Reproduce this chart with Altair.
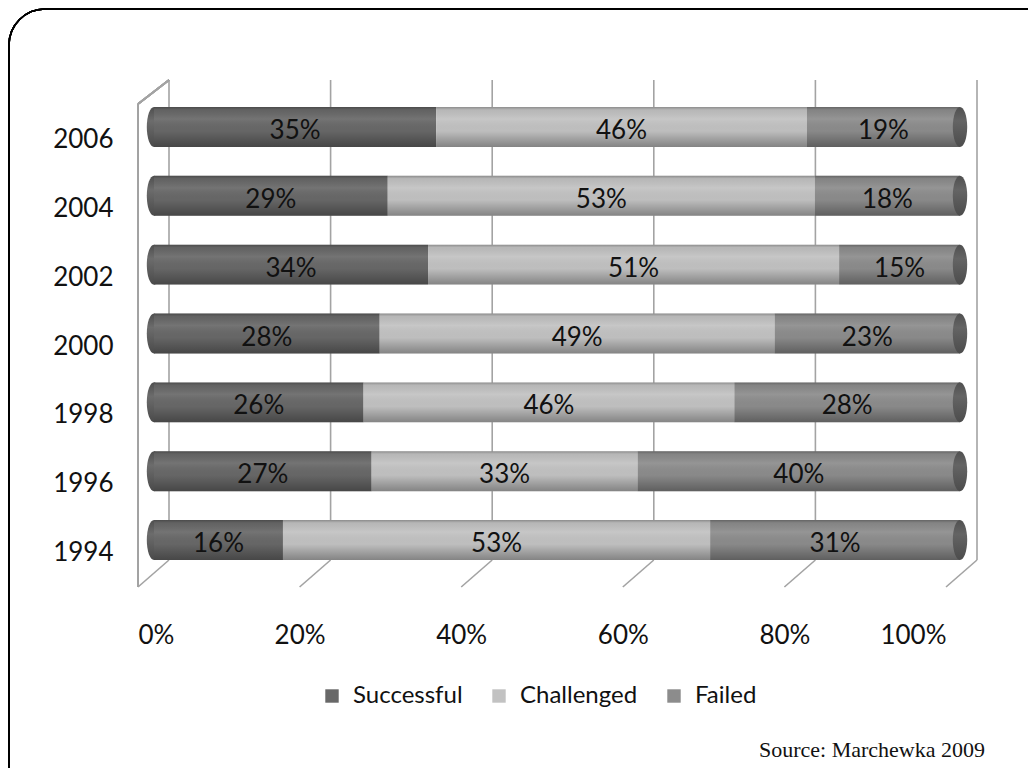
import altair as alt
import pandas as pd

years = ['2006', '2004', '2002', '2000', '1998', '1996', '1994']
successful = [35, 29, 34, 28, 26, 27, 16]
challenged = [46, 53, 51, 49, 46, 33, 53]
failed = [19, 18, 15, 23, 28, 40, 31]
categories = ['Successful', 'Challenged', 'Failed']
colors = ['#686868', '#c2c2c2', '#8c8c8c']
ticks = [0, 20, 40, 60, 80, 100]

rows = []
for i, y in enumerate(years):
    for k, (c, vals) in enumerate(zip(categories, [successful, challenged, failed])):
        rows.append({'year': y, 'cat': c, 'order': k, 'value': vals[i]})
df = pd.DataFrame(rows)
tick_df = pd.DataFrame({'p': ticks})

FONT = 'Lato'
W, H = 808, 507
front_scale = alt.Scale(domain=[0, 100], range=[0, 808])
bar_scale = alt.Scale(domain=[0, 100], range=[16, 822])
back_scale = alt.Scale(domain=[0, 100], range=[31, 839])
y_scale = alt.Scale(domain=years, paddingInner=0.42, paddingOuter=0.392)
grid_color = '#a3a3a3'

# frame
frame = alt.Chart(tick_df).mark_rect(
    fill=None, stroke='black', strokeWidth=1.5, cornerRadius=36
).encode(x=alt.value(-129), x2=alt.value(1100), y=alt.value(-71), y2=alt.value(900))

# back vertical gridlines
back_grid = alt.Chart(tick_df).mark_rule(color=grid_color, strokeWidth=1.6).encode(
    x=alt.X('p:Q', scale=back_scale, axis=None),
    y=alt.value(0), y2=alt.value(480)
)

# floor diagonals + front axis
floor = alt.Chart(tick_df).mark_rule(color=grid_color, strokeWidth=1.6, x2Offset=31).encode(
    x=alt.X('p:Q', scale=front_scale,
            axis=alt.Axis(values=ticks, labelExpr="datum.value + '%'", domain=False, ticks=False,
                          grid=False, title=None, labelFont=FONT, labelFontSize=26,
                          labelColor='#111111', labelBaseline='middle', labelPadding=48)),
    x2='p:Q',
    y=alt.value(507), y2=alt.value(480)
)

left_front = alt.Chart(tick_df).mark_rule(color=grid_color, strokeWidth=1.6).encode(
    x=alt.X(datum=0, scale=front_scale, axis=None),
    y=alt.value(24), y2=alt.value(507)
)
left_top = alt.Chart(tick_df).mark_rule(color=grid_color, strokeWidth=1.6, x2Offset=31).encode(
    x=alt.X(datum=0, scale=front_scale, axis=None),
    x2=alt.X2(datum=0),
    y=alt.value(24), y2=alt.value(0)
)

base = alt.Chart(df).transform_stack(
    stack='value', groupby=['year'], as_=['v0', 'v1'], sort=[alt.SortField('order')]
)

y_enc = alt.Y('year:N', scale=y_scale, sort=years,
              axis=alt.Axis(title=None, domain=False, ticks=False, labelFont=FONT,
                            labelFontSize=26, labelColor='#111111', labelPadding=25,
                            labelOffset=13))

ell = "M0,-1 A0.36,1 0 1,1 0,1 A0.36,1 0 1,1 0,-1 Z"
cap_grad_left = alt.Gradient(gradient='linear', x1=0, y1=0, x2=0, y2=1, stops=[
    alt.GradientStop(offset=0, color='#4e4e4e'),
    alt.GradientStop(offset=0.35, color='#6c6c6c'),
    alt.GradientStop(offset=1, color='#4a4a4a')])
cap_grad_right = alt.Gradient(gradient='linear', x1=0, y1=0, x2=0, y2=1, stops=[
    alt.GradientStop(offset=0, color='#505050'),
    alt.GradientStop(offset=0.35, color='#646464'),
    alt.GradientStop(offset=1, color='#4c4c4c')])

left_cap = base.transform_filter("datum.order == 0").mark_point(
    shape=ell, filled=True, size=1600, fill=cap_grad_left, opacity=1, strokeWidth=0
).encode(x=alt.X('v0:Q', scale=bar_scale, axis=None), y=y_enc)

bars = base.mark_bar(strokeWidth=0).encode(
    x=alt.X('v0:Q', scale=bar_scale, axis=None),
    x2='v1:Q',
    y=y_enc,
    color=alt.Color('cat:N', scale=alt.Scale(domain=categories, range=colors),
                    legend=alt.Legend(orient='none', legendX=182, legendY=604, direction='horizontal',
                                      title=None, symbolType='square', symbolSize=180,
                                      symbolStrokeWidth=0, labelFont=FONT, labelFontSize=24,
                                      labelColor='#111111', columnPadding=24, labelOffset=9,
                                      padding=0, symbolOpacity=1)),
)

shade = alt.Gradient(gradient='linear', x1=0, y1=0, x2=0, y2=1, stops=[
    alt.GradientStop(offset=0, color='rgba(0,0,0,0.28)'),
    alt.GradientStop(offset=0.07, color='rgba(0,0,0,0.06)'),
    alt.GradientStop(offset=0.3, color='rgba(255,255,255,0.08)'),
    alt.GradientStop(offset=0.6, color='rgba(0,0,0,0.02)'),
    alt.GradientStop(offset=1, color='rgba(0,0,0,0.32)')])
overlay = base.transform_filter("datum.order == 0").mark_bar(fill=shade, strokeWidth=0).encode(
    x=alt.X(datum=0, scale=bar_scale, axis=None),
    x2=alt.X2(datum=100),
    y=y_enc
)

right_cap = base.transform_filter("datum.order == 2").mark_point(
    shape=ell, filled=True, size=1600, fill=cap_grad_right, opacity=1, strokeWidth=0
).encode(x=alt.X('v1:Q', scale=bar_scale, axis=None), y=y_enc)

labels = base.transform_calculate(
    mid='(datum.v0 + datum.v1) / 2', lab="datum.value + '%'"
).mark_text(font=FONT, fontSize=26, color='#111111', baseline='middle', dy=4).encode(
    x=alt.X('mid:Q', scale=bar_scale, axis=None),
    y=y_enc,
    text='lab:N'
)

source = alt.Chart(tick_df).transform_filter("datum.p == 0").mark_text(
    text='Source: Marchewka 2009', font='Liberation Serif', fontSize=22, align='right',
    baseline='middle', color='#111111'
).encode(x=alt.value(847), y=alt.value(670))

chart = alt.layer(
    frame, back_grid, floor, left_front, left_top, left_cap, bars, overlay, right_cap, labels, source
).resolve_scale(x='independent').properties(
    width=W, height=H,
    autosize=alt.AutoSizeParams(type='none'),
    padding={'left': 130, 'top': 72, 'right': 82, 'bottom': 181},
    background='white'
).configure_view(stroke=None)

chart.save("out.html", embed_options={"renderer": "svg", "actions": False})
